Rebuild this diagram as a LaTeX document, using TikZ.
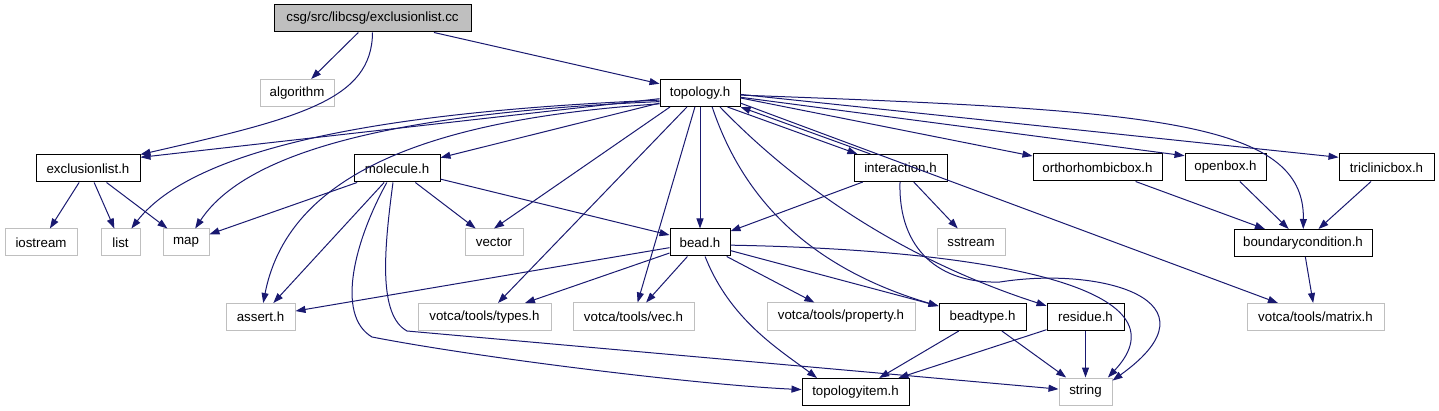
\documentclass[tikz,border=0pt]{standalone}
\usepackage{fontspec}
\setmainfont{Liberation Sans}
\usetikzlibrary{arrows.meta}
\definecolor{cnavy}{RGB}{25,25,112}
\definecolor{cgrey}{RGB}{191,191,191}

\begin{document}
\begin{tikzpicture}[
  x=1pt, y=-1pt,
  box/.style     = {rectangle, draw=black, line width=1pt, fill=white,
                    minimum width=#1, minimum height=27pt, inner sep=0pt,
                    font=\fontsize{13.3}{16}\selectfont},
  sysbox/.style  = {box=#1, draw=cgrey},
  rootbox/.style = {box=#1, fill=cgrey},
  dep/.style     = {-{Triangle[length=10pt, width=7pt]}, cnavy, line width=1pt},
]
\useasboundingbox (0,0) rectangle (1439,411);
% Row 1: source file
\node[rootbox=197pt] (root)        at (372.5,18.5) {csg/src/libcsg/exclusionlist.cc};
% Row 2
\node[sysbox=74pt]   (algorithm)   at (297,93)     {algorithm};
\node[box=80pt]      (topology)    at (700,93)     {topology.h};
% Row 3: headers
\node[box=104pt] (exclusionlist)   at (88,168.5)   {exclusionlist.h};
\node[box=86pt]  (molecule)        at (397,168.5)  {molecule.h};
\node[box=93pt]  (interaction)     at (900.5,168)  {interaction.h};
\node[box=129pt] (orthorhombicbox) at (1097.5,167.5) {orthorhombicbox.h};
\node[box=81pt]  (openbox)         at (1225.5,167.5) {openbox.h};
\node[box=95pt]  (triclinicbox)    at (1386.5,167.5) {triclinicbox.h};
% Row 4
\node[sysbox=72pt]  (iostream) at (41,242.5)   {iostream};
\node[sysbox=39pt]  (list)     at (120.5,242.5) {list};
\node[sysbox=46pt]  (map)      at (186,242.5)  {map};
\node[sysbox=58pt]  (vector)   at (494,242.5)  {vector};
\node[box=60pt]     (bead)     at (700,242.5)  {bead.h};
\node[sysbox=68pt]  (sstream)  at (971,242.5)  {sstream};
\node[box=138pt]    (boundary) at (1303,243)   {boundarycondition.h};
% Row 5
\node[sysbox=69pt]  (assert)   at (260.5,317)  {assert.h};
\node[sysbox=133pt] (types)    at (484.5,317)  {votca/tools/types.h};
\node[sysbox=121pt] (vec)      at (633.5,316.5) {votca/tools/vec.h};
\node[sysbox=148pt] (property) at (841,316.5)  {votca/tools/property.h};
\node[box=87pt]     (beadtype) at (982.5,317)  {beadtype.h};
\node[box=77pt]     (residue)  at (1085.5,317) {residue.h};
\node[sysbox=137pt] (matrix)   at (1315.5,317) {votca/tools/matrix.h};
% Row 6
\node[box=107pt]    (topologyitem) at (855.5,392) {topologyitem.h};
\node[sysbox=53pt]  (string)   at (1085.5,391.5) {string};
% exclusionlist.cc
\draw[dep] (root) -- (algorithm);
\draw[dep] (root.south) .. controls (372,100) and (300,118) .. (exclusionlist.north east);
\draw[dep] (root) -- (topology);
% topology.h, left fan
\draw[dep] (topology.188) -- (exclusionlist.12);
\draw[dep] (topology.190) .. controls (420,110) and (200,140) .. (list);
\draw[dep] (topology.192) .. controls (420,112) and (250,145) .. (map);
\draw[dep] (topology) -- (molecule);
\draw[dep] (topology.195) .. controls (450,118) and (290,165) .. (assert);
\draw[dep] (topology.205) -- (vector.north);
\draw[dep] (topology.227) -- (types);
\draw[dep] (topology.250) -- (vec);
\draw[dep] (topology) -- (bead);
% topology.h, right fan
\draw[dep] (topology.311) .. controls (740,190) and (800,265) .. (beadtype.166);
\draw[dep] (topology.325) .. controls (810,200) and (920,265) .. (residue.164);
\draw[dep] (topology.333) -- (interaction.162);
\draw[dep] (interaction.155) -- (topology.south east);
\draw[dep] (topology.346) -- (matrix);
\draw[dep] (topology.353) -- (orthorhombicbox.170);
\draw[dep] (topology.354) -- (openbox.164);
\draw[dep] (topology.357) .. controls (1150,110) and (1305,120) .. (boundary);
\draw[dep] (topology.358) -- (triclinicbox.168);
% exclusionlist.h
\draw[dep] (exclusionlist) -- (iostream);
\draw[dep] (exclusionlist) -- (list);
\draw[dep] (exclusionlist) -- (map);
% molecule.h
\draw[dep] (molecule) -- (map);
\draw[dep] (molecule) -- (assert);
\draw[dep] (molecule) -- (vector);
\draw[dep] (molecule) -- (bead);
\draw[dep] (molecule.234) .. controls (355,240) and (335,315) .. (372,337)
                          .. controls (480,358) and (700,385) .. (topologyitem);
\draw[dep] (molecule.254) .. controls (384,250) and (378,315) .. (407,331) -- (string);
% bead.h
\draw[dep] (bead) -- (assert);
\draw[dep] (bead) -- (types);
\draw[dep] (bead) -- (vec);
\draw[dep] (bead) -- (property);
\draw[dep] (bead) -- (beadtype.166);
\draw[dep] (bead.290) .. controls (730,320) and (780,350) .. (topologyitem.160);
\draw[dep] (bead.355) .. controls (1000,250) and (1190,290) .. (string.32);
% interaction.h
\draw[dep] (interaction) -- (bead);
\draw[dep] (interaction) -- (sstream);
\draw[dep] (interaction.268) .. controls (898,250) and (940,284) .. (1000,282)
                             .. controls (1100,266) and (1225,300) .. (string.22);
% boxes
\draw[dep] (orthorhombicbox) -- (boundary);
\draw[dep] (openbox) -- (boundary);
\draw[dep] (triclinicbox) -- (boundary);
\draw[dep] (boundary) -- (matrix);
% beadtype.h, residue.h
\draw[dep] (beadtype) -- (topologyitem);
\draw[dep] (beadtype) -- (string);
\draw[dep] (residue) -- (topologyitem);
\draw[dep] (residue) -- (string);
\end{tikzpicture}
\end{document}
